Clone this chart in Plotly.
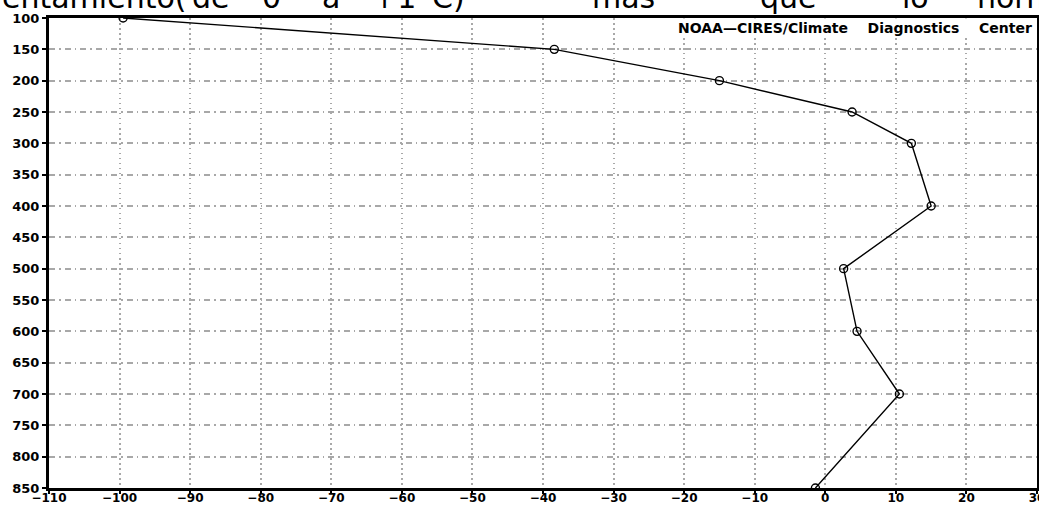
import plotly.graph_objects as go

# Vertical profile: pressure level (hPa) vs. anomaly value
pressure = [100, 150, 200, 250, 300, 400, 500, 600, 700, 850]
values = [-99.5, -38.4, -15.0, 3.8, 12.2, 15.0, 2.6, 4.5, 10.5, -1.4]

x_ticks = list(range(-110, 31, 10))
y_ticks = list(range(100, 851, 50))

header_words = ["entamiento(", "de", "0", "a", "+1", "C)", "más", "que", "lo", "norm"]
header_px = [0, 190, 260, 320, 370, 430, 590, 758, 900, 975]

W, H = 1039, 505
L, R, T, B = 49, 2, 18, 17
pw, ph = W - L - R, H - T - B

fig = go.Figure()
fig.add_trace(go.Scatter(
    x=values, y=pressure, mode="lines+markers",
    line=dict(color="black", width=1.4),
    marker=dict(symbol="circle-open", size=8, color="black", line=dict(width=1.4)),
    cliponaxis=True, showlegend=False,
))

tickfont = dict(family="DejaVu Sans", size=13, color="black", weight="bold")

fig.update_xaxes(
    range=[-110, 30], tickvals=x_ticks, ticktext=[str(v).replace("-", "−") for v in x_ticks],
    showgrid=True, gridcolor="#a8a8a8", griddash="1.5px,3.5px", gridwidth=1.5,
    showline=True, linecolor="black", linewidth=3, mirror=True,
    ticks="outside", ticklen=3, tickwidth=1.5, tickcolor="black",
    tickfont=dict(tickfont, size=12), zeroline=False, ticklabeloverflow="allow",
    automargin=False, ticklabelstandoff=-6,
)
fig.update_yaxes(
    range=[850, 100], tickvals=y_ticks,
    showgrid=True, gridcolor="#a8a8a8", griddash="6px,4px,1.5px,4px", gridwidth=1.5,
    showline=True, linecolor="black", linewidth=3, mirror=True,
    ticks="outside", ticklen=4, tickwidth=1.5, tickcolor="black",
    tickfont=tickfont, zeroline=False, ticklabeloverflow="allow", automargin=False,
)

gap = "\u00a0\u00a0\u00a0\u00a0"
annotations = [dict(
    text="NOAA\u2014CIRES/Climate" + gap + "Diagnostics" + gap + "Center",
    xref="paper", yref="paper", x=0.997, y=0.999, xanchor="right", yanchor="top",
    showarrow=False, bgcolor="white", borderpad=1,
    font=dict(family="DejaVu Sans", size=14, color="black", weight="bold"),
)]
for word, px in zip(header_words, header_px):
    annotations.append(dict(
        text=word, xref="paper", yref="paper",
        x=(px - L) / pw, y=(H - B + 3) / ph,
        xanchor="left", yanchor="middle", showarrow=False,
        font=dict(family="DejaVu Sans", size=30, color="black"),
    ))

fig.update_layout(
    width=W, height=H,
    margin=dict(l=L, r=R, t=T, b=B),
    paper_bgcolor="white", plot_bgcolor="white",
    annotations=annotations,
)

fig.write_html("out.html")
